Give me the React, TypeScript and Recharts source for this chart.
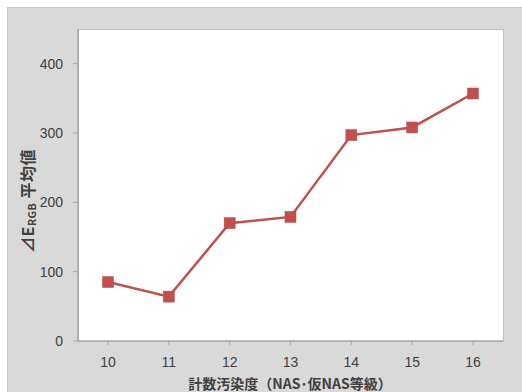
import React from 'react';
import { LineChart, Line, XAxis, YAxis } from 'recharts';

const categories = ['10', '11', '12', '13', '14', '15', '16'];
const deltaE = [85, 64, 170, 179, 297, 308, 357];
const yTicks = [0, 100, 200, 300, 400];

const data = categories.map((c, i) => ({ name: c, value: deltaE[i] }));

const RED = '#c0504d';
const AXIS = '#a6a6a6';
const TEXT = '#404040';

const SquareDot = (props: any) => {
  const { cx, cy } = props;
  if (cx == null || cy == null) return null;
  return <rect x={cx - 5.5} y={cy - 5.5} width={11} height={11} fill={RED} stroke="#b84a47" strokeWidth={0.5} />;
};

const YLabel = () => (
  <text
    x={27}
    y={201}
    transform="rotate(-90, 27, 201)"
    textAnchor="middle"
    dominantBaseline="central"
    fontFamily="'Noto Sans CJK JP', 'Noto Sans', sans-serif"
    fontWeight="bold"
    fontSize={16}
    letterSpacing={0.5}
    fill={TEXT}
  >
    <tspan>⊿E</tspan>
    <tspan fontSize={10.5} dy={4}>RGB</tspan>
    <tspan dy={-4}> 平均値</tspan>
  </text>
);

const XLabel = () => (
  <text
    x={290}
    y={383}
    textAnchor="middle"
    dominantBaseline="central"
    fontFamily="'Noto Sans CJK JP', 'Noto Sans', sans-serif"
    fontWeight="bold"
    fontSize={14}
    fill={TEXT}
  >
    計数汚染度（NAS･仮NAS等級）
  </text>
);

export default function App() {
  return (
    <div style={{ position: 'absolute', left: 0, top: 0, width: 522, height: 392, overflow: 'hidden', background: '#ffffff' }}>
      <div
        style={{
          position: 'absolute',
          left: 7,
          top: 7,
          width: 520,
          height: 390,
          background: '#d9d9d9',
          borderTop: '1px solid #c6c6c6',
          borderLeft: '1px solid #c6c6c6',
          boxSizing: 'border-box',
        }}
      />
      <div
        style={{
          position: 'absolute',
          left: 78,
          top: 29,
          width: 426,
          height: 313,
          background: '#ffffff',
          border: '1px solid #bfbfbf',
          boxSizing: 'border-box',
        }}
      />
      <div style={{ position: 'absolute', left: 0, top: 0 }}>
        <LineChart
          width={522}
          height={392}
          data={data}
          margin={{ top: 29, right: 19, bottom: 0, left: 0 }}
        >
          <XAxis
            dataKey="name"
            height={51}
            padding={{ left: 30, right: 30 }}
            axisLine={{ stroke: AXIS, strokeWidth: 1.5 }}
            tickLine={{ stroke: AXIS }}
            tickSize={4}
            tickMargin={12}
            tick={{ fill: TEXT, fontSize: 14, fontFamily: "'Liberation Sans', Arial, sans-serif" }}
            label={<XLabel />}
          />
          <YAxis
            width={78}
            domain={[0, 450]}
            ticks={yTicks}
            interval={0}
            axisLine={{ stroke: AXIS, strokeWidth: 1.5 }}
            tickLine={{ stroke: AXIS }}
            tickSize={5}
            tickMargin={10}
            tick={{ fill: TEXT, fontSize: 14, fontFamily: "'Liberation Sans', Arial, sans-serif" }}
            label={<YLabel />}
          />
          <Line
            type="linear"
            dataKey="value"
            stroke={RED}
            strokeWidth={2.5}
            dot={<SquareDot />}
            activeDot={false}
            isAnimationActive={false}
          />
        </LineChart>
      </div>
    </div>
  );
}
